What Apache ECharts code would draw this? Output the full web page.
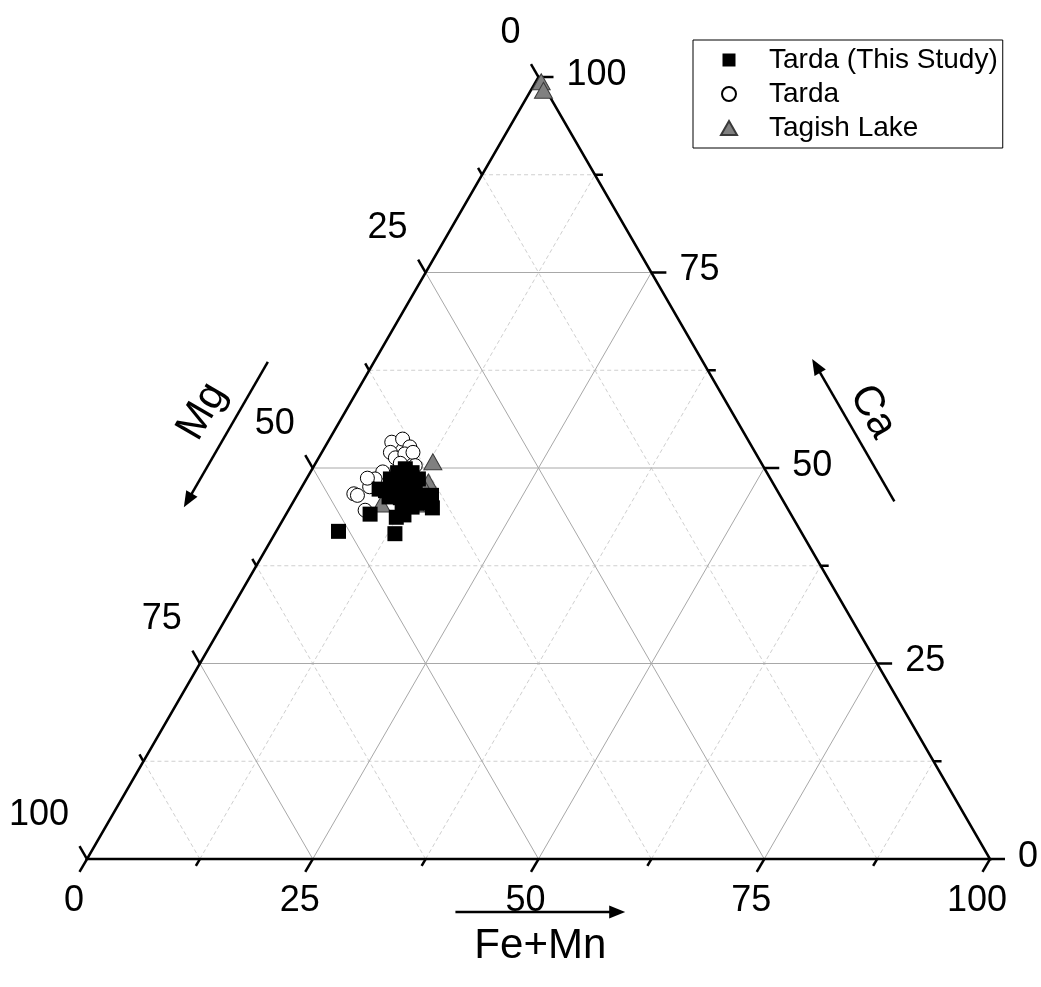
<!DOCTYPE html>
<html>
<head>
<meta charset="utf-8">
<script src="https://cdn.jsdelivr.net/npm/echarts@6/dist/echarts.min.js"></script>
<style>
  html, body { margin: 0; padding: 0; background: #fff; }
  #chart { width: 1041px; height: 987px; }
</style>
</head>
<body>
<div id="chart"></div>
<script>
// Compositions as [Mg, Fe+Mn, Ca] in atom %
const tardaThisStudy = [
  [51.2, 6.9, 41.9], [45.1, 13.3, 41.6], [46.6, 9.3, 44.1], [38.6, 14.9, 46.5],
  [39.3, 15.8, 44.9], [43.9, 12.4, 43.7], [44.0, 8.7, 47.3], [39.8, 10.3, 49.9],
  [42.1, 9.3, 48.6], [40.9, 9.7, 49.4], [39.3, 11.3, 49.4], [39.0, 12.4, 48.6],
  [42.1, 10.3, 47.6], [40.8, 11.4, 47.8], [40.0, 12.7, 47.3], [39.7, 13.8, 46.5],
  [43.4, 10.3, 46.3], [42.2, 11.6, 46.2], [41.1, 12.9, 46.0], [40.4, 14.1, 45.5],
  [42.6, 12.4, 45.0], [41.5, 13.5, 45.0], [42.9, 13.1, 44.0], [43.4, 9.5, 47.1]
];
const tardaLiterature = [
  [39.6, 7.1, 53.3], [38.2, 8.1, 53.7], [37.9, 9.4, 52.7], [40.4, 7.6, 52.0],
  [40.2, 8.5, 51.3], [38.9, 9.3, 51.8], [37.9, 10.1, 52.0], [42.5, 8.0, 49.5],
  [43.8, 7.6, 48.6], [44.9, 7.5, 47.6], [38.5, 11.2, 50.3], [47.1, 6.2, 46.7],
  [46.8, 6.7, 46.5], [46.9, 8.5, 44.6], [44.6, 6.7, 48.7], [40.0, 9.4, 50.6]
];
const tagishLake = [
  [0.0, 0.6, 99.4], [0.3, 1.4, 98.3], [36.3, 12.9, 50.8], [38.1, 13.7, 48.2],
  [44.7, 9.9, 45.4], [40.9, 13.7, 45.4], [38.9, 13.5, 47.6]
];

const seriesNames = ['Tarda (This Study)', 'Tarda', 'Tagish Lake'];
const axisTitles = { mg: 'Mg', fe: 'Fe+Mn', ca: 'Ca' };
const majorTicks = [0, 25, 50, 75, 100];
const minorTicks = [12.5, 37.5, 62.5, 87.5];
const gridMajor = [25, 50, 75];
const gridMinor = [12.5, 37.5, 62.5, 87.5];

const H = Math.sqrt(3) / 2;
const FONT = '"Liberation Sans", Arial, Helvetica, sans-serif';

// legend icons: a small glyph centred in a wide, otherwise empty box
const LEGEND_SQUARE = 'path://M0,0L0,0M70,14L70,14M28.5,0.5H41.5V13.5H28.5Z';
const LEGEND_TRIANGLE = 'path://M0,0L0,0M70,14L70,14M35,0L43,14L27,14Z';

// ternary [Mg, Fe+Mn, Ca] -> cartesian (x along the Fe+Mn base, y up towards Ca)
function tern(mg, fe, ca) {
  const s = mg + fe + ca;
  const f = fe / s * 100, c = ca / s * 100;
  return [f + c / 2, c * H];
}
const toXY = rows => rows.map(r => tern(r[0], r[1], r[2]));

function seg(p, q, style) {
  return { type: 'line', shape: { x1: p[0], y1: p[1], x2: q[0], y2: q[1] }, style: style, silent: true };
}

function renderGrid(params, api) {
  const P = (mg, fe, ca) => api.coord(tern(mg, fe, ca));
  const kids = [];
  const add = (vals, style) => vals.forEach(v => {
    const w = 100 - v;
    kids.push(seg(P(w, 0, v), P(0, w, v), style));   // constant Ca
    kids.push(seg(P(w, v, 0), P(0, v, w), style));   // constant Fe+Mn
    kids.push(seg(P(v, w, 0), P(v, 0, w), style));   // constant Mg
  });
  add(gridMinor, { stroke: '#cfcfcf', lineWidth: 1, lineDash: [4, 3] });
  add(gridMajor, { stroke: '#a8a8a8', lineWidth: 1 });
  return { type: 'group', children: kids };
}

function arrow(p0, p1, style) {
  const dx = p1[0] - p0[0], dy = p1[1] - p0[1];
  const L = Math.hypot(dx, dy), ux = dx / L, uy = dy / L, vx = -uy, vy = ux;
  const hl = 16, hw = 6.5;
  return [
    seg(p0, [p1[0] - ux * 8, p1[1] - uy * 8], style),
    { type: 'polygon', silent: true,
      shape: { points: [p1, [p1[0] - ux * hl + vx * hw, p1[1] - uy * hl + vy * hw],
                            [p1[0] - ux * hl - vx * hw, p1[1] - uy * hl - vy * hw]] },
      style: { fill: '#000' } }
  ];
}

function renderFrame(params, api) {
  const P = (mg, fe, ca) => api.coord(tern(mg, fe, ca));
  const A = P(100, 0, 0), B = P(0, 100, 0), C = P(0, 0, 100);
  const G = [(A[0] + B[0] + C[0]) / 3, (A[1] + B[1] + C[1]) / 3];
  const kids = [];
  const ink = { stroke: '#000', lineWidth: 2.5 };

  kids.push({ type: 'polygon', silent: true, shape: { points: [A, B, C] },
              style: { fill: null, stroke: '#000', lineWidth: 2.5, lineJoin: 'miter' } });

  const tick = (base, dir, len) => seg(base, [base[0] + dir[0] * len, base[1] + dir[1] * len], ink);
  const dFe = [-0.5, H], dCa = [1, 0], dMg = [-0.5, -H];
  const text = (str, x, y, align, size) => ({
    type: 'text', silent: true, x: x, y: y,
    style: { text: str, fill: '#000', fontSize: size, fontFamily: FONT, align: align, verticalAlign: 'middle' }
  });

  [[majorTicks, 15], [minorTicks, 8]].forEach(([vals, len]) => vals.forEach(v => {
    kids.push(tick(P(100 - v, v, 0), dFe, len));
    kids.push(tick(P(0, 100 - v, v), dCa, len));
    kids.push(tick(P(v, 0, 100 - v), dMg, len));
  }));

  majorTicks.forEach(v => {
    const bf = P(100 - v, v, 0), bc = P(0, 100 - v, v), bm = P(v, 0, 100 - v);
    kids.push(text(String(v), bf[0] - 13, bf[1] + 42, 'center', 36));
    kids.push(text(String(v), bc[0] + 28, bc[1] - 2, 'left', 36));
    kids.push(text(String(v), bm[0] - 18, bm[1] - 44, 'right', 36));
  });

  // point along edge P0->P1 at fraction t, pushed outward by d pixels
  const along = (P0, P1, t, d) => {
    const ex = P1[0] - P0[0], ey = P1[1] - P0[1], L = Math.hypot(ex, ey);
    let nx = ey / L, ny = -ex / L;
    const mx = P0[0] + ex * t, my = P0[1] + ey * t;
    if ((mx - G[0]) * nx + (my - G[1]) * ny < 0) { nx = -nx; ny = -ny; }
    return [mx + nx * d, my + ny * d];
  };
  const title = (str, p, rot) => ({
    type: 'text', silent: true, x: p[0], y: p[1], rotation: rot,
    style: { text: str, fill: '#000', fontSize: 42, fontFamily: FONT, align: 'center', verticalAlign: 'middle' }
  });

  // Fe+Mn (base edge, pointing towards the Fe+Mn corner)
  arrow(along(A, B, 0.408, 53), along(A, B, 0.596, 53), ink).forEach(e => kids.push(e));
  kids.push(title(axisTitles.fe, along(A, B, 0.502, 87), 0));

  // Mg (left edge, pointing towards the Mg corner)
  arrow(along(C, A, 0.423, 92), along(C, A, 0.609, 92), ink).forEach(e => kids.push(e));
  kids.push(title(axisTitles.mg, along(C, A, 0.507, 124), Math.PI / 3));

  // Ca (right edge, pointing towards the Ca corner)
  arrow(along(B, C, 0.396, 96), along(B, C, 0.578, 96), ink).forEach(e => kids.push(e));
  kids.push(title(axisTitles.ca, along(B, C, 0.494, 122), -Math.PI / 3));

  return { type: 'group', children: kids };
}

const chart = echarts.init(document.getElementById('chart'), null, { renderer: 'canvas' });
chart.setOption({
  animation: false,
  backgroundColor: '#fff',
  grid: { left: 87, right: 51, top: 77, bottom: 128 },
  xAxis: { type: 'value', min: 0, max: 100, show: false },
  yAxis: { type: 'value', min: 0, max: 100 * H, show: false },
  legend: {
    data: [
      { name: seriesNames[0], icon: LEGEND_SQUARE },
      { name: seriesNames[1], icon: 'circle' },
      { name: seriesNames[2], icon: LEGEND_TRIANGLE }
    ],
    orient: 'vertical',
    left: 693, top: 40,
    padding: [6, 5, 6, 0],
    itemGap: 6,
    itemWidth: 70, itemHeight: 14,
    symbolKeepAspect: true,
    borderColor: '#000', borderWidth: 1, borderRadius: 0, backgroundColor: '#fff',
    textStyle: { fontSize: 28, fontFamily: FONT, color: '#000' },
    selectedMode: false
  },
  series: [
    { type: 'custom', name: 'grid', renderItem: renderGrid, data: [[0, 0]], silent: true, clip: false, z: 1 },
    { type: 'custom', name: 'frame', renderItem: renderFrame, data: [[0, 0]], silent: true, clip: false, z: 2 },
    {
      type: 'scatter', name: seriesNames[0], data: toXY(tardaThisStudy), z: 6, clip: false,
      symbol: 'rect', symbolSize: 15,
      itemStyle: { color: '#000', opacity: 1 }, emphasis: { disabled: true }
    },
    {
      type: 'scatter', name: seriesNames[1], data: toXY(tardaLiterature), z: 4, clip: false,
      symbol: 'circle', symbolSize: 14,
      itemStyle: { color: '#fff', borderColor: '#000', borderWidth: 1, opacity: 1 }, emphasis: { disabled: true }
    },
    {
      type: 'scatter', name: seriesNames[2], data: toXY(tagishLake), z: 5, clip: false,
      symbol: 'triangle', symbolSize: [18, 16],
      itemStyle: { color: '#808080', borderColor: '#3a3a3a', borderWidth: 1, opacity: 1 }, emphasis: { disabled: true }
    }
  ]
});
</script>
</body>
</html>
